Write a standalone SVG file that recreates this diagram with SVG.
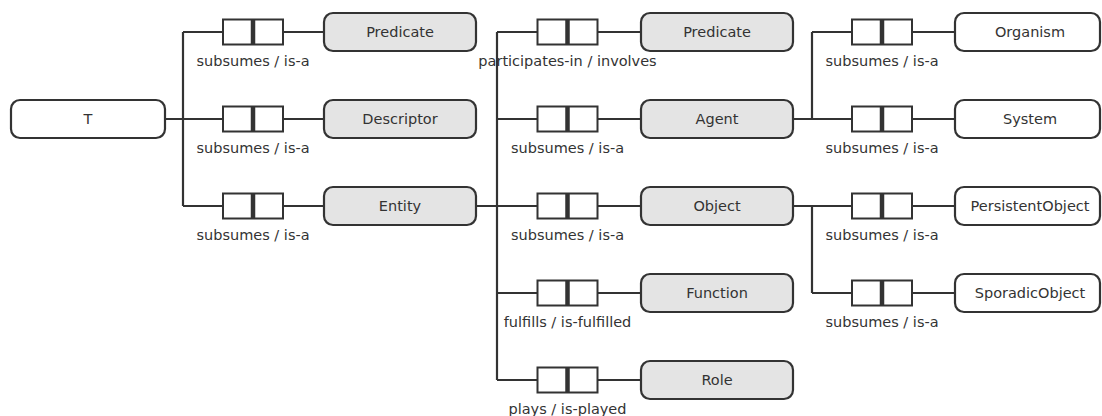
<svg xmlns="http://www.w3.org/2000/svg" width="1102" height="416" viewBox="0 0 1102 416">
  <defs>
    <style>
      .node rect { stroke: #333; stroke-width: 2.2; }
      .abstract rect { fill: #e4e4e4; }
      .concrete rect { fill: #ffffff; }
      .node text { font-family: "DejaVu Sans", Verdana, sans-serif; font-size: 14.5px; fill: #333; text-anchor: middle; }
      .wire { fill: none; stroke: #333; stroke-width: 2.2; }
      .relframe { fill: #ffffff; stroke: #333; stroke-width: 2; }
      .reldiv { stroke: #333; stroke-width: 4.5; }
      .rel text { font-family: "DejaVu Sans", Verdana, sans-serif; font-size: 14.5px; fill: #333; text-anchor: middle; }
    </style>
    <!-- relation symbol: two-cell box with a heavy divider, centred on (0,0) -->
    <g id="relbox">
      <rect class="relframe" x="-30" y="-12.5" width="60" height="25"/>
      <line class="reldiv" x1="0" y1="-12.5" x2="0" y2="12.5"/>
    </g>
  </defs>

  <!-- connectors -->
  <g id="connectors">
    <!-- T hub -->
    <path class="wire" d="M165,119 H223 M183,32 V206 M183,32 H223 M183,206 H223 M283,32 H324 M283,119 H324 M283,206 H324"/>
    <!-- Entity hub -->
    <path class="wire" d="M476,206 H537 M497,32 V380 M497,32 H537 M497,119 H537 M497,293 H537 M497,380 H537 M598,32 H641 M598,119 H641 M598,206 H641 M598,293 H641 M598,380 H641"/>
    <!-- Agent hub -->
    <path class="wire" d="M793,119 H852 M812,32 V119 M812,32 H852 M912,32 H955 M912,119 H955"/>
    <!-- Object hub -->
    <path class="wire" d="M793,206 H852 M812,206 V293 M812,293 H852 M912,206 H955 M912,293 H955"/>

    <g class="rel" transform="translate(253,32)"><use href="#relbox"/><text y="34">subsumes / is-a</text></g>
    <g class="rel" transform="translate(253,119)"><use href="#relbox"/><text y="34">subsumes / is-a</text></g>
    <g class="rel" transform="translate(253,206)"><use href="#relbox"/><text y="34">subsumes / is-a</text></g>

    <g class="rel" transform="translate(567.5,32)"><use href="#relbox"/><text y="34">participates-in / involves</text></g>
    <g class="rel" transform="translate(567.5,119)"><use href="#relbox"/><text y="34">subsumes / is-a</text></g>
    <g class="rel" transform="translate(567.5,206)"><use href="#relbox"/><text y="34">subsumes / is-a</text></g>
    <g class="rel" transform="translate(567.5,293)"><use href="#relbox"/><text y="34">fulfills / is-fulfilled</text></g>
    <g class="rel" transform="translate(567.5,380)"><use href="#relbox"/><text y="34">plays / is-played</text></g>

    <g class="rel" transform="translate(882,32)"><use href="#relbox"/><text y="34">subsumes / is-a</text></g>
    <g class="rel" transform="translate(882,119)"><use href="#relbox"/><text y="34">subsumes / is-a</text></g>
    <g class="rel" transform="translate(882,206)"><use href="#relbox"/><text y="34">subsumes / is-a</text></g>
    <g class="rel" transform="translate(882,293)"><use href="#relbox"/><text y="34">subsumes / is-a</text></g>
  </g>

  <!-- nodes -->
  <g id="node-T" class="node concrete"><rect x="11" y="100" width="154" height="38" rx="9"/><text x="88" y="124">T</text></g>

  <g id="node-Predicate" class="node abstract"><rect x="324" y="13" width="152" height="38" rx="9"/><text x="400" y="37">Predicate</text></g>
  <g id="node-Descriptor" class="node abstract"><rect x="324" y="100" width="152" height="38" rx="9"/><text x="400" y="124">Descriptor</text></g>
  <g id="node-Entity" class="node abstract"><rect x="324" y="187" width="152" height="38" rx="9"/><text x="400" y="211">Entity</text></g>

  <g id="node-Predicate2" class="node abstract"><rect x="641" y="13" width="152" height="38" rx="9"/><text x="717" y="37">Predicate</text></g>
  <g id="node-Agent" class="node abstract"><rect x="641" y="100" width="152" height="38" rx="9"/><text x="717" y="124">Agent</text></g>
  <g id="node-Object" class="node abstract"><rect x="641" y="187" width="152" height="38" rx="9"/><text x="717" y="211">Object</text></g>
  <g id="node-Function" class="node abstract"><rect x="641" y="274" width="152" height="38" rx="9"/><text x="717" y="298">Function</text></g>
  <g id="node-Role" class="node abstract"><rect x="641" y="361" width="152" height="38" rx="9"/><text x="717" y="385">Role</text></g>

  <g id="node-Organism" class="node concrete"><rect x="955" y="13" width="145" height="38" rx="9"/><text x="1030" y="37">Organism</text></g>
  <g id="node-System" class="node concrete"><rect x="955" y="100" width="145" height="38" rx="9"/><text x="1030" y="124">System</text></g>
  <g id="node-PersistentObject" class="node concrete"><rect x="955" y="187" width="145" height="38" rx="9"/><text x="1030" y="211">PersistentObject</text></g>
  <g id="node-SporadicObject" class="node concrete"><rect x="955" y="274" width="145" height="38" rx="9"/><text x="1030" y="298">SporadicObject</text></g>
</svg>
